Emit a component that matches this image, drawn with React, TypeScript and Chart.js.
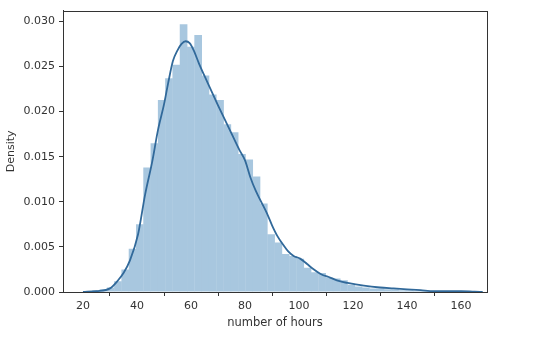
import React, { useEffect, useRef } from "react";
import { Chart, registerables } from "chart.js";

Chart.register(...registerables);

// Histogram bins (centres, hours) and densities
const binCenters = [
  22.15, 24.85, 27.55, 30.25, 32.95, 35.65, 38.35, 41.05, 43.75, 46.45, 49.15, 51.85, 54.55,
  57.25, 59.95, 62.65, 65.35, 68.05, 70.75, 73.45, 76.15, 78.85, 81.55, 84.25, 86.95, 89.65,
  92.35, 95.05, 97.75, 100.45, 103.15, 105.85, 108.55, 111.25, 113.95, 116.65, 119.35, 122.05,
  124.75, 127.45, 130.15, 132.85, 135.55, 138.25, 140.95, 143.65, 146.35, 149.05, 151.75,
  154.45, 157.15, 159.85,
];
const histValues = [
  0.0001, 0.0002, 0.0003, 0.0005, 0.0012, 0.0025, 0.0048, 0.0075, 0.0138, 0.0165, 0.0213,
  0.0237, 0.0252, 0.0297, 0.0272, 0.0285, 0.024, 0.0219, 0.0213, 0.0186, 0.0177, 0.0153,
  0.0147, 0.0128, 0.0098, 0.0064, 0.0055, 0.0042, 0.004, 0.0037, 0.0027, 0.0022, 0.0021,
  0.0016, 0.0015, 0.0013, 0.0008, 0.0006, 0.0005, 0.0004, 0.0004, 0.0003, 0.0003, 0.0002,
  0.0002, 0.0001, 0.0001, 0.0001, 0.00005, 0.0001, 0.00005, 0.0001,
];

// KDE curve
const kdeX = [
  20, 25, 30, 33, 35, 37.4, 40.4, 43, 45.6, 47.8, 50, 51.5, 53.3, 55, 56.5, 58, 59.5, 61, 63,
  66, 70, 74, 78, 80, 82, 84, 86, 88, 90, 92, 94, 96, 98, 100.4, 103, 105, 108, 111.5, 115,
  118, 124, 130, 135, 140, 145, 150, 155, 160, 165, 168,
];
const kdeY = [
  0, 0.0001, 0.0004, 0.0013, 0.0021, 0.0035, 0.0064, 0.0108, 0.0144, 0.018, 0.0208, 0.0231,
  0.0256, 0.0268, 0.0275, 0.0278, 0.0276, 0.0268, 0.0253, 0.0233, 0.0207, 0.0182, 0.0157,
  0.0146, 0.0127, 0.0112, 0.01, 0.0088, 0.0074, 0.0062, 0.0053, 0.0045, 0.004, 0.0037, 0.0031,
  0.0026, 0.002, 0.0016, 0.0012, 0.001, 0.0007, 0.0005, 0.0004, 0.0003, 0.0002, 0.0001, 0.0001,
  0.0001, 0.00003, 0,
];

const xTicks = [20, 40, 60, 80, 100, 120, 140, 160];
const yTicks = [0, 0.005, 0.01, 0.015, 0.02, 0.025, 0.03];

const FONT = "'DejaVu Sans', sans-serif";
const AXIS = "#333333";

const boxPlugin = {
  id: "box",
  afterDraw(chart: any) {
    const { ctx, chartArea } = chart;
    ctx.save();
    ctx.strokeStyle = AXIS;
    ctx.lineWidth = 1;
    ctx.strokeRect(
      Math.round(chartArea.left) + 0.5,
      Math.round(chartArea.top) + 0.5,
      Math.round(chartArea.right - chartArea.left),
      Math.round(chartArea.bottom - chartArea.top)
    );
    ctx.restore();
  },
};

export default function App() {
  const ref = useRef<HTMLCanvasElement>(null);
  useEffect(() => {
    const canvas = ref.current!;
    const chart = new Chart(canvas, {
      type: "bar",
      data: {
        datasets: [
          {
            type: "line",
            data: kdeX.map((x, i) => ({ x, y: kdeY[i] })),
            borderColor: "#31699a",
            borderWidth: 1.8,
            pointRadius: 0,
            cubicInterpolationMode: "monotone",
            fill: false,
            order: 0,
          } as any,
          {
            type: "bar",
            data: binCenters.map((x, i) => ({ x, y: histValues[i] })),
            backgroundColor: "rgb(168,199,223)",
            borderWidth: 0,
            barPercentage: 1.05,
            categoryPercentage: 1,
            order: 1,
          } as any,
        ],
      },
      options: {
        responsive: false,
        animation: false,
        events: [],
        layout: { padding: { left: 0, right: 53, top: 6, bottom: 0 } },
        plugins: { legend: { display: false }, tooltip: { enabled: false } },
        scales: {
          x: {
            type: "linear",
            min: 12.6,
            max: 169.6,
            offset: false,
            afterBuildTicks: (s: any) => {
              s.ticks = xTicks.map((v) => ({ value: v }));
            },
            afterFit: (s: any) => {
              s.height = 65;
            },
            grid: { display: true, drawOnChartArea: false, tickLength: 4, color: AXIS },
            border: { display: true, color: AXIS },
            ticks: {
              font: { family: FONT, size: 11 },
              color: AXIS,
              padding: 4,
              maxRotation: 0,
              callback: (v: any) => String(v),
            },
            title: {
              display: true,
              text: "number of hours",
              font: { family: FONT, size: 11.5 },
              color: AXIS,
              padding: { top: 4, bottom: 27 },
            },
          },
          y: {
            type: "linear",
            min: 0,
            max: 0.0312,
            afterBuildTicks: (s: any) => {
              s.ticks = yTicks.map((v) => ({ value: v }));
            },
            afterFit: (s: any) => {
              s.width = 63;
            },
            grid: { display: true, drawOnChartArea: false, tickLength: 4, color: AXIS },
            border: { display: true, color: AXIS },
            ticks: {
              font: { family: FONT, size: 11 },
              color: AXIS,
              padding: 4,
              callback: (v: any) => Number(v).toFixed(3),
            },
            title: {
              display: true,
              text: "Density",
              font: { family: FONT, size: 11 },
              color: AXIS,
              padding: { top: 5, bottom: 0 },
            },
          },
        },
      },
      plugins: [boxPlugin],
    });
    return () => chart.destroy();
  }, []);
  return (
    <div style={{ position: "fixed", left: 0, top: 0, width: 540, height: 357, background: "#fff" }}>
      <canvas ref={ref} width={540} height={357} style={{ display: "block" }} />
    </div>
  );
}
